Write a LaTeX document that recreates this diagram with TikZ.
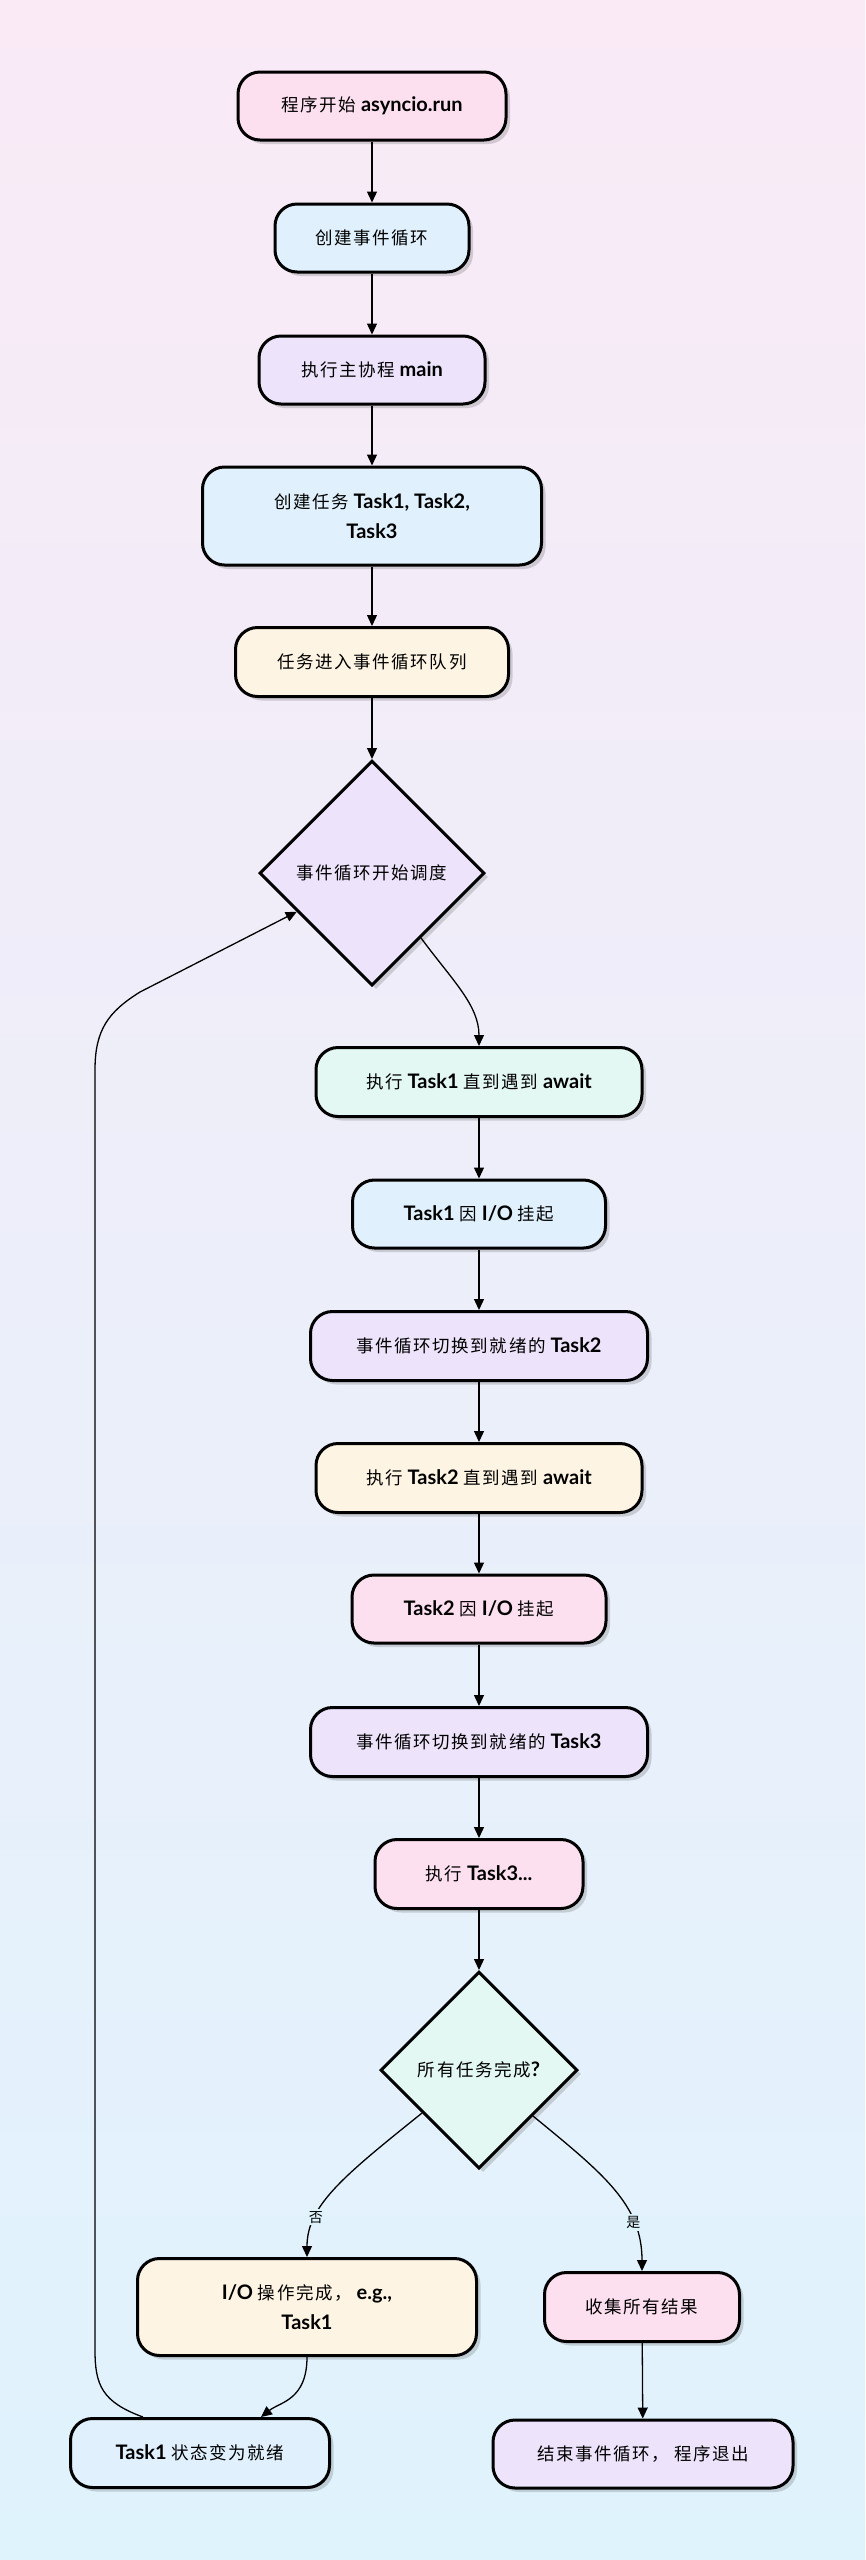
\documentclass[tikz,border=0pt]{standalone}
\usepackage{fontspec}
\setmainfont{Lato}
\newfontfamily\cjk[LetterSpace=9]{Noto Sans CJK SC}
\usetikzlibrary{shapes.geometric,shadows,arrows.meta,calc}
\newcommand\zhtxt[1]{{\cjk\mdseries\fontsize{17.5}{30}\selectfont #1}}
\definecolor{bgtop}{HTML}{F9EAF6}
\definecolor{bgmid}{HTML}{F0EFFA}
\definecolor{bgbot}{HTML}{DFF3FD}
\definecolor{cpink}{HTML}{FDE0EF}
\definecolor{cblue}{HTML}{E0F1FD}
\definecolor{clav}{HTML}{EDE3FB}
\definecolor{ccream}{HTML}{FEF4E3}
\definecolor{cmint}{HTML}{E3F7F3}
\tikzset{
  shad/.style={drop shadow={shadow xshift=4pt, shadow yshift=-4pt, opacity=0.22, fill=black!70}},
  box/.style={draw=black, line width=3pt, rounded corners=22pt, minimum height=68pt, inner sep=0pt,
    align=center, font=\fontsize{20}{30}\selectfont\bfseries, shad},
  dia/.style={diamond, aspect=1, draw=black, line width=3pt, inner sep=0pt,
    align=center, font=\fontsize{20}{26}\selectfont\bfseries, shad},
  conn/.style={-{Triangle[length=11pt,width=10pt]}, line width=1.3pt},
  lbl/.style={fill=bgbot, inner sep=2pt, font=\fontsize{14}{16}\selectfont},
}
\begin{document}
\begin{tikzpicture}[x=1pt,y=-1pt]
\shade[top color=bgtop, middle color=bgmid, bottom color=bgbot] (0,0) rectangle (865,2560);
\useasboundingbox (0,0) rectangle (865,2560);

\node[box, fill=cpink, minimum width=268pt] (n1) at (372,106) {\zhtxt{程序开始} asyncio.run};
\node[box, fill=cblue, minimum width=194pt] (n2) at (372,238) {\zhtxt{创建事件循环}};
\node[box, fill=clav, minimum width=226pt] (n3) at (372,370) {\zhtxt{执行主协程} main};
\node[box, fill=cblue, minimum width=339pt, minimum height=98pt] (n4) at (372,516) {\zhtxt{创建任务} Task1, Task2,\\Task3};
\node[box, fill=ccream, minimum width=273pt, minimum height=69pt] (n5) at (372,662) {\zhtxt{任务进入事件循环队列}};
\node[dia, fill=clav, minimum width=225pt, minimum height=225pt] (d1) at (372,873) {\zhtxt{事件循环开始调度}};

\node[box, fill=cmint, minimum width=326pt, minimum height=69pt] (n7) at (479,1082) {\zhtxt{执行} Task1 \zhtxt{直到遇到} await};
\node[box, fill=cblue, minimum width=253pt] (n8) at (479,1214) {Task1 \zhtxt{因} I/O \zhtxt{挂起}};
\node[box, fill=clav, minimum width=337pt, minimum height=69pt] (n9) at (479,1346) {\zhtxt{事件循环切换到就绪的} Task2};
\node[box, fill=ccream, minimum width=326pt, minimum height=69pt] (n10) at (479,1478) {\zhtxt{执行} Task2 \zhtxt{直到遇到} await};
\node[box, fill=cpink, minimum width=254pt] (n11) at (479,1609) {Task2 \zhtxt{因} I/O \zhtxt{挂起}};
\node[box, fill=clav, minimum width=337pt, minimum height=69pt] (n12) at (479,1742) {\zhtxt{事件循环切换到就绪的} Task3};
\node[box, fill=cpink, minimum width=208pt, minimum height=69pt] (n13) at (479,1874) {\zhtxt{执行} Task3...};
\node[dia, fill=cmint, minimum width=197pt, minimum height=197pt] (d2) at (479,2070) {\zhtxt{所有任务完成}?};

\node[box, fill=ccream, minimum width=339pt, minimum height=97pt] (n15) at (307,2307) {I/O \zhtxt{操作完成，} e.g.,\\Task1};
\node[box, fill=cblue, minimum width=259pt, minimum height=69pt] (n16) at (200,2453) {Task1 \zhtxt{状态变为就绪}};
\node[box, fill=cpink, minimum width=195pt, minimum height=69pt] (n17) at (642,2307) {\zhtxt{收集所有结果}};
\node[box, fill=clav, minimum width=300pt] (n18) at (643,2454) {\zhtxt{结束事件循环，} \zhtxt{程序退出}};

\draw[conn] (n1) -- (n2);
\draw[conn] (n2) -- (n3);
\draw[conn] (n3) -- (n4);
\draw[conn] (n4) -- (n5);
\draw[conn] (n5) -- (d1);
\draw[conn] ($(d1.east)!0.57!(d1.south)$) .. controls (452,980) and (479,1005) .. (n7.north);
\draw[conn] (n7) -- (n8);
\draw[conn] (n8) -- (n9);
\draw[conn] (n9) -- (n10);
\draw[conn] (n10) -- (n11);
\draw[conn] (n11) -- (n12);
\draw[conn] (n12) -- (n13);
\draw[conn] (n13) -- (d2);
\draw[conn] ($(d2.west)!0.43!(d2.south)$) .. controls (345,2175) and (307,2205) .. node[lbl, pos=0.72] {\zhtxt{\fontsize{14}{16}\selectfont 否}} (n15.north);
\draw[conn] ($(d2.east)!0.46!(d2.south)$) .. controls (605,2175) and (642,2205) .. node[lbl, pos=0.72] {\zhtxt{\fontsize{14}{16}\selectfont 是}} (n17.north);
\draw[conn] (n15.south) .. controls (307,2400) and (280,2402) .. ($(n16.north)+(61,0)$);
\draw[conn] ($(n16.north)+(-57,0)$) .. controls (102,2402) and (95,2385) .. (95,2350) -- (95,1070)
   .. controls (95,1030) and (108,1012) .. (140,992) -- ($(d1.west)!0.34!(d1.south)$);
\draw[conn] (n17) -- (n18);
\end{tikzpicture}
\end{document}
